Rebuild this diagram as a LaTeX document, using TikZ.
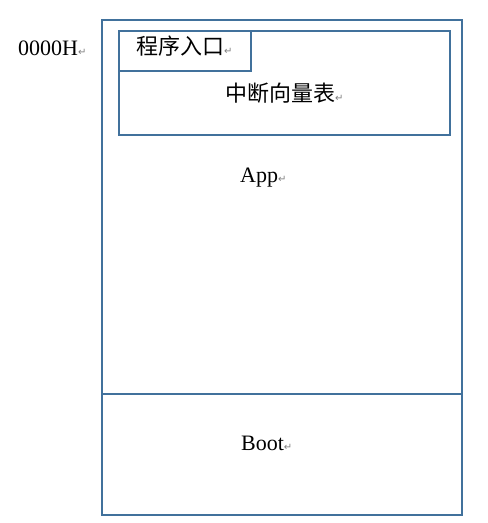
\documentclass[tikz,border=0pt]{standalone}
\usepackage{fontspec}
\setmainfont{Liberation Serif}
\newfontfamily\cjkfont{Noto Sans CJK SC}
\newfontfamily\markfont{DejaVu Sans}
\usetikzlibrary{positioning}
\definecolor{boxblue}{HTML}{41719C}
\newcommand{\retmark}{{\markfont\fontsize{10}{10}\selectfont\color{gray}↵}}

\begin{document}
\begin{tikzpicture}[x=1pt,y=-1pt,
  box/.style={draw=boxblue,line width=2.4pt,inner sep=0pt,anchor=north west},
  lbl/.style={font=\fontsize{22}{22}\selectfont,inner sep=0pt,anchor=west,
  text height=16pt,text depth=5pt},
  cjk/.style={lbl,font=\cjkfont\fontsize{22}{22}\selectfont}]

  \useasboundingbox (0,0) rectangle (488,523);
  % memory blocks
  \node[box,minimum width=360pt,minimum height=495pt] (flash) at (101,19) {};
  \node[box,minimum width=331pt,minimum height=104pt] (vect) at (118,30) {};
  \node[box,minimum width=132pt,minimum height=40pt] (entry) at (118,30) {};
  \coordinate (bootTop) at (101,394);
  \draw[boxblue,line width=2.4pt] (flash.west |- bootTop) -- (flash.east |- bootTop);

  % labels
  \node[lbl] (addr) at (18,50) {0000H\retmark};
  \node[cjk] (entryText) at (136,49) {程序入口\retmark};
  \node[cjk] (vectText) at (225,96) {中断向量表\retmark};
  \node[lbl] (appText) at (240,177) {App\retmark};
  \node[lbl] (bootText) at (241,445) {Boot\retmark};
\end{tikzpicture}
\end{document}
